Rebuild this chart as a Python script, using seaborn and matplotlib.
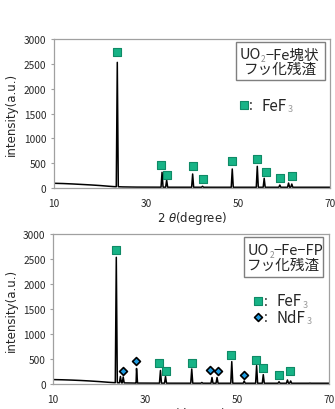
import matplotlib
matplotlib.use("Agg")
import matplotlib.pyplot as plt
import seaborn as sns
import pandas as pd
import numpy as np
from matplotlib.patches import Rectangle

sns.set_style("white")
plt.rcParams['font.family'] = ['Noto Sans CJK JP', 'DejaVu Sans']
plt.rcParams['mathtext.fontset'] = 'dejavusans'

# ---------------- data ----------------
# background (baseline) of the XRD patterns
top_bg_x = [10, 12, 14, 16, 18, 20, 22, 23, 25, 28, 35, 45, 55, 70]
top_bg_y = [95, 90, 82, 72, 62, 50, 35, 28, 22, 18, 16, 15, 15, 15]
bot_bg_x = [10, 12, 14, 16, 18, 20, 22, 23, 25, 28, 35, 45, 55, 70]
bot_bg_y = [88, 84, 78, 70, 60, 48, 34, 28, 22, 18, 16, 15, 15, 15]

# peaks (2theta, intensity)
top_peak_pos = [23.77, 33.5, 34.5, 40.15, 42.3, 48.76, 54.2, 55.7, 59.1, 61.0, 61.7]
top_peak_int = [2530, 316, 160, 282, 35, 383, 437, 195, 60, 100, 80]
bot_peak_pos = [23.7, 24.6, 25.2, 28.1, 33.3, 34.4, 40.1, 42.3, 44.5, 45.6, 48.8,
                51.5, 54.2, 55.65, 59.07, 60.9, 61.6, 65.8]
bot_peak_int = [2533, 150, 140, 310, 270, 150, 300, 30, 130, 130, 447,
                60, 367, 187, 45, 80, 60, 18]

# phase markers
top_fef3_x = [23.77, 33.26, 34.6, 40.15, 42.3, 48.76, 54.2, 56.1, 59.2, 61.7]
top_fef3_y = [2732, 470, 268, 449, 181, 550, 584, 316, 195, 248]
bot_fef3_x = [23.56, 33.0, 34.4, 40.1, 48.7, 54.07, 55.6, 59.0, 61.46]
bot_fef3_y = [2680, 413, 267, 413, 587, 487, 320, 180, 253]
bot_ndf3_x = [25.15, 28.0, 44.1, 45.87, 51.5]
bot_ndf3_y = [267, 467, 287, 253, 187]

x_ticks = [10, 30, 50, 70]
y_ticks = [0, 500, 1000, 1500, 2000, 2500, 3000]
box_titles = [("UO", "2", "−Fe塊状", "フッ化残渣"), ("UO", "2", "−Fe−FP", "フッ化残渣")]
xlabel = "2 $\\theta$(degree)"
ylabel = "intensity(a.u.)"

SQ_FACE = '#17b386'
SQ_EDGE = '#0f8a66'
DI_FACE = '#1f9be0'
SPINE = '#a0a0a0'


def build_pattern(bg_x, bg_y, pk_x, pk_y, hw=0.22):
    # polyline built from the baseline points plus a spike for each peak
    pts = list(zip(bg_x, bg_y))
    for p, h in zip(pk_x, pk_y):
        b = float(np.interp(p, bg_x, bg_y))
        pts += [(p - hw, b), (p, h), (p + hw, b)]
    pts.sort(key=lambda t: t[0])
    return pd.DataFrame(pts, columns=["x", "y"])


fig = plt.figure(figsize=(3.35, 4.10), dpi=100)
ax1 = fig.add_axes([0.161, 0.539, 0.824, 0.3634])
ax2 = fig.add_axes([0.159, 0.061, 0.824, 0.366])


def style(ax):
    ax.set_xlim(10, 70)
    ax.set_ylim(0, 3000)
    ax.set_xticks(x_ticks)
    ax.set_yticks(y_ticks)
    for s in ax.spines.values():
        s.set_color(SPINE)
        s.set_linewidth(0.9)
        s.set_visible(True)
    ax.tick_params(axis='y', length=2.5, width=0.8, color=SPINE, pad=3,
                   labelsize=7.3, direction='out', left=True)
    ax.tick_params(axis='x', length=0, pad=7, labelsize=7.3)
    ax.set_xlabel(xlabel, fontsize=8.5, labelpad=1, family='DejaVu Sans')
    ax.set_ylabel(ylabel, fontsize=8.5, labelpad=4, family='DejaVu Sans')


def title_box(ax, parts, x0, x1, y0, y1, tx, ty1, ty2):
    ax.add_patch(Rectangle((x0, y0), x1 - x0, y1 - y0, transform=ax.transAxes,
                           fill=True, facecolor='white', edgecolor='#7f7f7f',
                           lw=1.0, zorder=5))
    a, sub, b, line2 = parts
    t1 = ax.text(tx, ty1, a, transform=ax.transAxes, fontsize=10.5,
                 ha='left', va='center', zorder=6)
    t2 = ax.annotate(sub, xy=(1, 0), xycoords=t1, xytext=(0, -1.2),
                     textcoords='offset points', fontsize=6, color='#8c8c8c',
                     ha='left', va='bottom', zorder=6)
    ax.annotate(b, xy=(1, 0), xycoords=(t2, t1), xytext=(0, 0),
                textcoords='offset points', fontsize=10.5, ha='left',
                va='bottom', zorder=6)
    ax.text((x0 + x1) / 2, ty2, line2, transform=ax.transAxes, fontsize=10.5,
            ha='center', va='center', zorder=6)


def legend_entry(ax, mx, my, marker, face, edge, size, lw, name, tx):
    ax.scatter([mx], [my], transform=ax.transAxes, marker=marker, s=size,
               facecolor=face, edgecolor=edge, linewidth=lw, zorder=6,
               clip_on=False)
    ax.text(tx - 0.045, my, ":", transform=ax.transAxes, fontsize=10,
            ha='left', va='center', zorder=6)
    t = ax.text(tx, my, name, transform=ax.transAxes, fontsize=11,
                ha='left', va='center', zorder=6)
    ax.annotate("3", xy=(1, 0), xycoords=t, xytext=(0.5, 0.5),
                textcoords='offset points', fontsize=6.5, color='#9a9a9a',
                ha='left', va='bottom', zorder=6)


# ---------------- top panel ----------------
df_top = build_pattern(top_bg_x, top_bg_y, top_peak_pos, top_peak_int)
sns.lineplot(data=df_top, x="x", y="y", ax=ax1, color='black', lw=1.1,
             sort=False, estimator=None)
sns.scatterplot(x=top_fef3_x, y=top_fef3_y, ax=ax1, marker='s', s=38,
                color=SQ_FACE, edgecolor=SQ_EDGE, linewidth=0.8, zorder=4)
style(ax1)
title_box(ax1, box_titles[0], 0.659, 0.982, 0.725, 0.982, 0.672, 0.897, 0.797)
legend_entry(ax1, 0.69, 0.557, 's', SQ_FACE, SQ_EDGE, 34, 0.8, "FeF", 0.752)

# ---------------- bottom panel ----------------
df_bot = build_pattern(bot_bg_x, bot_bg_y, bot_peak_pos, bot_peak_int)
sns.lineplot(data=df_bot, x="x", y="y", ax=ax2, color='black', lw=1.1,
             sort=False, estimator=None)
sns.scatterplot(x=bot_fef3_x, y=bot_fef3_y, ax=ax2, marker='s', s=38,
                color=SQ_FACE, edgecolor=SQ_EDGE, linewidth=0.8, zorder=4)
sns.scatterplot(x=bot_ndf3_x, y=bot_ndf3_y, ax=ax2, marker='D', s=16,
                color=DI_FACE, edgecolor='black', linewidth=1.2, zorder=4)
style(ax2)
title_box(ax2, box_titles[1], 0.691, 0.978, 0.715, 0.978, 0.705, 0.893, 0.791)
legend_entry(ax2, 0.74, 0.555, 's', SQ_FACE, SQ_EDGE, 34, 0.8, "FeF", 0.81)
legend_entry(ax2, 0.74, 0.445, 'D', DI_FACE, 'black', 16, 1.2, "NdF", 0.81)

fig.savefig("out.png", dpi=100)
